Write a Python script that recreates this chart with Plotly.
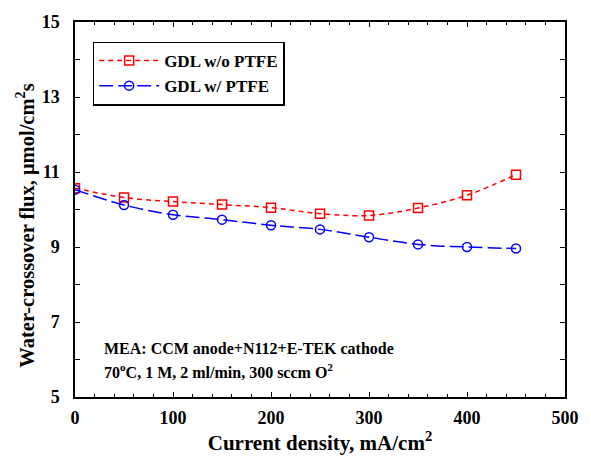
import plotly.graph_objects as go

current = [0, 50, 100, 150, 200, 250, 300, 350, 400, 450]
flux_no_ptfe = [10.57, 10.32, 10.21, 10.13, 10.05, 9.89, 9.84, 10.04, 10.38, 10.93]
flux_ptfe = [10.53, 10.12, 9.86, 9.73, 9.58, 9.47, 9.26, 9.07, 9.00, 8.96]
x_ticks = [0, 100, 200, 300, 400, 500]
y_ticks = [5, 7, 9, 11, 13, 15]

FONT = "Liberation Serif, Times New Roman, serif"

fig = go.Figure()
fig.add_trace(go.Scatter(
    x=current, y=flux_no_ptfe, name="<b>GDL w/o PTFE</b>", mode="lines+markers",
    line=dict(color="#ff0000", width=1.5, dash="5px,4px", shape="spline"),
    marker=dict(symbol="square-open", size=9, color="#ff0000", line=dict(width=1.5)),
))
fig.add_trace(go.Scatter(
    x=current, y=flux_ptfe, name="<b>GDL w/ PTFE</b>", mode="lines+markers",
    line=dict(color="#0000ff", width=1.5, dash="14px,5px", shape="spline"),
    marker=dict(symbol="circle-open", size=9, color="#0000ff", line=dict(width=1.5)),
))

axis_common = dict(
    showline=True, linecolor="black", linewidth=1.5, mirror="ticks",
    ticks="inside", tickcolor="black", ticklen=5, tickwidth=1.2,
    showgrid=False, zeroline=False,
    tickfont=dict(family=FONT, size=18, color="black"),
)

fig.update_layout(
    width=591, height=457,
    margin=dict(l=75, r=15, t=19, b=50),
    plot_bgcolor="white", paper_bgcolor="white",
    font=dict(family=FONT, color="black"),
    xaxis=dict(
        range=[0, 500], tickvals=x_ticks, ticktext=[f"<b>{v}</b>" for v in x_ticks],
        minor=dict(ticks="inside", dtick=20, ticklen=3, tickcolor="black", showgrid=False),
        ticklabelstandoff=4,
        title=dict(text="<b>Current density, mA/cm<sup>2</sup></b>",
                   font=dict(family=FONT, size=21, color="black"), standoff=2),
        **axis_common,
    ),
    yaxis=dict(
        range=[5, 15], tickvals=y_ticks, ticktext=[f"<b>{v}</b>" for v in y_ticks],
        minor=dict(ticks="inside", dtick=1, ticklen=5, tickcolor="black", showgrid=False),
        ticklabelstandoff=10,
        **axis_common,
    ),
    legend=dict(
        x=0.036, y=0.948, xanchor="left", yanchor="top",
        bordercolor="black", borderwidth=1.5, bgcolor="white",
        font=dict(family=FONT, size=17, color="black"),
        itemwidth=60, tracegroupgap=6,
    ),
    showlegend=True,
)

fig.add_annotation(
    x=-0.1, y=0.457, xref="paper", yref="paper", xanchor="center", yanchor="middle",
    text="<b>Water-crossover flux, \u03bcmol/cm<sup>2</sup>s</b>", textangle=-90,
    showarrow=False, font=dict(family=FONT, size=20.5, color="black"),
)
fig.add_annotation(
    x=0.055, y=0.13, xref="paper", yref="paper", xanchor="left", yanchor="middle",
    text="<b>MEA: CCM anode+N112+E-TEK cathode</b>", showarrow=False,
    font=dict(family=FONT, size=16, color="black"),
)
fig.add_annotation(
    x=0.055, y=0.07, xref="paper", yref="paper", xanchor="left", yanchor="middle",
    text="<b>70<sup>o</sup>C, 1 M, 2 ml/min, 300 sccm O<sup>2</sup></b>", showarrow=False,
    font=dict(family=FONT, size=16, color="black"),
)

fig.write_html("out.html")
